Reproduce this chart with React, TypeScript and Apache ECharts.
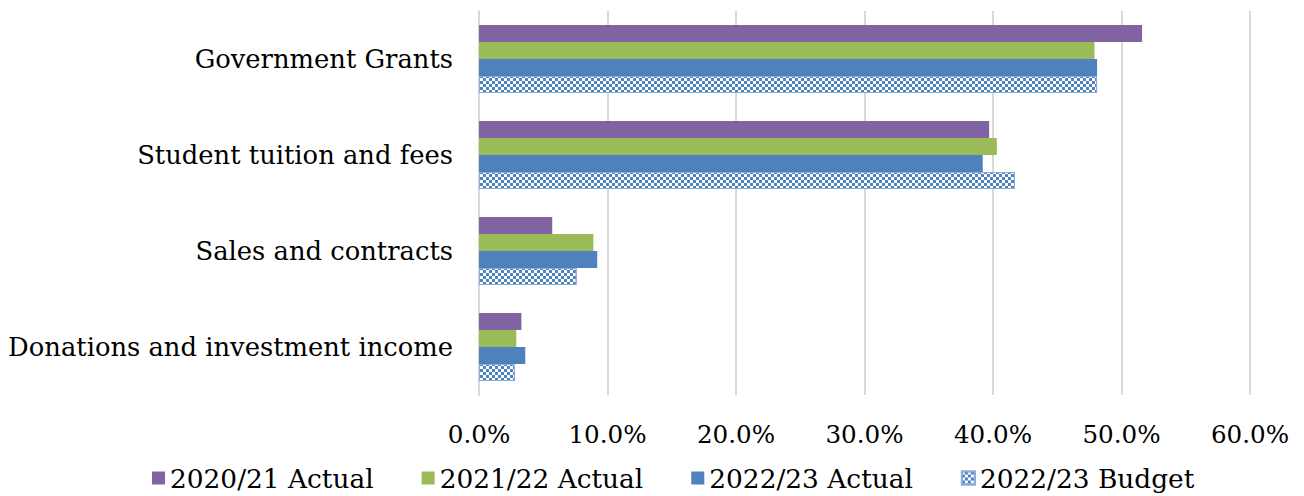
import React, { useEffect, useRef } from "react";
import * as echarts from "echarts";

const categories = [
  "Government Grants",
  "Student tuition and fees",
  "Sales and contracts",
  "Donations and investment income",
];
const seriesNames = ["2020/21 Actual", "2021/22 Actual", "2022/23 Actual", "2022/23 Budget"];
const actual2021 = [51.6, 39.7, 5.7, 3.3];
const actual2122 = [47.9, 40.3, 8.9, 2.9];
const actual2223 = [48.1, 39.2, 9.2, 3.6];
const budget2223 = [48.1, 41.7, 7.6, 2.8];
const tickValues = [0, 10, 20, 30, 40, 50, 60];

const FONT = "DejaVu Serif";

export default function App() {
  const ref = useRef<HTMLDivElement>(null);
  useEffect(() => {
    document.body.style.margin = "0";
    if (!ref.current) return;
    const chart = echarts.init(ref.current, undefined, { renderer: "svg" });
    const decal = {
      symbol: "rect",
      symbolSize: 1,
      color: "#4f81bd",
      dashArrayX: [[3, 3], [0, 3, 3, 0]],
      dashArrayY: [3, 0],
      rotation: 0,
    };
    const colors = ["#8064a2", "#9bbb59", "#4f81bd"];
    const solid = [actual2021, actual2122, actual2223].map((d, i) => ({
      name: seriesNames[i],
      type: "bar",
      data: d,
      barWidth: 17,
      barGap: "0%",
      barCategoryGap: "29%",
      itemStyle: { color: colors[i] },
    }));
    chart.setOption({
      animation: false,
      textStyle: { fontFamily: FONT },
      grid: { left: 479, right: 54, top: 11, bottom: 101, containLabel: false },
      legend: {
        left: 147,
        top: 460,
        itemWidth: 13,
        itemHeight: 13,
        itemGap: 48,
        icon: "rect",
        textStyle: { fontFamily: FONT, fontSize: 26.4, color: "#000" },
        data: seriesNames,
      },
      xAxis: {
        type: "value",
        min: tickValues[0],
        max: tickValues[tickValues.length - 1],
        interval: 10,
        axisLine: { show: false },
        axisTick: { show: false },
        splitLine: { lineStyle: { color: "#d9d9d9", width: 2 } },
        axisLabel: {
          margin: 27,
          fontFamily: FONT,
          fontSize: 24.6,
          color: "#000",
          formatter: (v: number) => v.toFixed(1) + "%",
        },
      },
      yAxis: {
        type: "category",
        inverse: true,
        data: categories,
        axisTick: { show: false },
        axisLine: { show: true, lineStyle: { color: "#d9d9d9", width: 2 } },
        axisLabel: { margin: 26, fontFamily: FONT, fontSize: 25.8, color: "#000" },
      },
      series: [
        ...solid,
        {
          name: seriesNames[3],
          type: "bar",
          data: budget2223,
          barWidth: 17,
          barGap: "0%",
          barCategoryGap: "29%",
          itemStyle: {
            color: "#ffffff",
            borderColor: "#8eaadb",
            borderWidth: 1,
            decal,
          },
        },
      ],
    });
    return () => chart.dispose();
  }, []);
  return <div ref={ref} style={{ width: 1304, height: 496 }} />;
}
